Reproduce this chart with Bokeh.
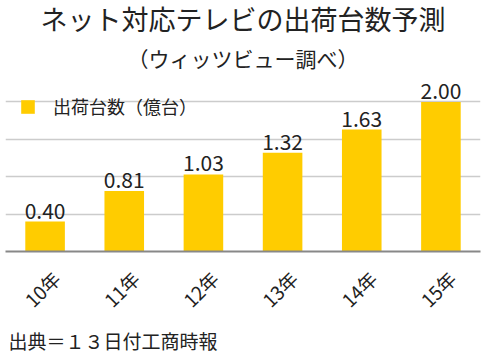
import math
from bokeh.plotting import figure
from bokeh.models import (ColumnDataSource, Range1d, FixedTicker, Title, Legend, LegendItem,
                          LinearAxis)
from bokeh.core.properties import value
from bokeh.embed import file_html
from bokeh.resources import INLINE

# ---- data ----
years = ["10年", "11年", "12年", "13年", "14年", "15年"]
shipments = [0.40, 0.81, 1.03, 1.32, 1.63, 2.00]
grid_ticks = [0.5, 1.0, 1.5, 2.0]
title_text = "ネット対応テレビの出荷台数予測"
subtitle_text = "（ウィッツビュー調べ）"
series_name = "出荷台数（億台）"
source_text = "出典＝１３日付工商時報"

FONT = "Noto Sans CJK JP"
TXT = "#222222"
BAR = "#FFCC00"

n = len(years)
idx = list(range(n))
src = ColumnDataSource(dict(x=idx, y=shipments, lab=["%.2f" % v for v in shipments]))

p = figure(width=492, height=353, x_range=Range1d(-0.5, n - 0.5), y_range=Range1d(0, 2.30),
           output_backend="svg", toolbar_location=None, y_axis_location=None,
           x_axis_location=None,
           min_border_left=5, min_border_right=12, min_border_top=0, min_border_bottom=0)
p.outline_line_color = None
p.background_fill_color = "white"
p.border_fill_color = "white"

r = p.vbar(x="x", top="y", width=0.5, source=src, fill_color=BAR, line_color=None)
p.text(x="x", y="y", text="lab", source=src, text_align="center", text_baseline="alphabetic",
       y_offset=-11, text_font=value(FONT), text_font_size="21px", text_color=TXT)

p.xgrid.visible = False
p.ygrid.ticker = FixedTicker(ticks=grid_ticks)
p.ygrid.grid_line_color = "#cccccc"
p.ygrid.grid_line_width = 1.5

# category axis on a twin range, shifted so the rotated labels centre on the bars
shift = 0.14
p.extra_x_ranges = {"lab": Range1d(start=-0.5 - shift, end=n - 0.5 - shift)}
ax = LinearAxis(x_range_name="lab", ticker=FixedTicker(ticks=idx),
                major_label_overrides={i: years[i] for i in idx})
ax.axis_line_color = "#888888"
ax.axis_line_width = 2
ax.major_tick_line_color = None
ax.minor_tick_line_color = None
ax.major_label_orientation = math.pi / 4
ax.major_label_text_font = FONT
ax.major_label_text_font_size = "19px"
ax.major_label_text_color = TXT
ax.major_label_standoff = 17
p.add_layout(ax, "below")

legend = Legend(items=[LegendItem(label=series_name, renderers=[r])], location="top_left",
                glyph_width=17, glyph_height=17, label_standoff=17, margin=14, padding=5,
                background_fill_alpha=0, border_line_color=None,
                label_text_font=FONT, label_text_font_size="18px", label_text_color=TXT)
p.add_layout(legend)

p.add_layout(Title(text=source_text, align="left", text_font=FONT, text_font_size="19px",
                   text_font_style="normal", text_color=TXT, standoff=0, offset=3), "below")
p.add_layout(Title(text=subtitle_text, align="center", text_font=FONT, text_font_size="21px",
                   text_font_style="normal", text_color=TXT, standoff=14), "above")
p.add_layout(Title(text=title_text, align="center", text_font=FONT, text_font_size="27px",
                   text_font_style="normal", text_color=TXT, standoff=-8, offset=5), "above")

open("out.html", "w").write(file_html(p, INLINE))
